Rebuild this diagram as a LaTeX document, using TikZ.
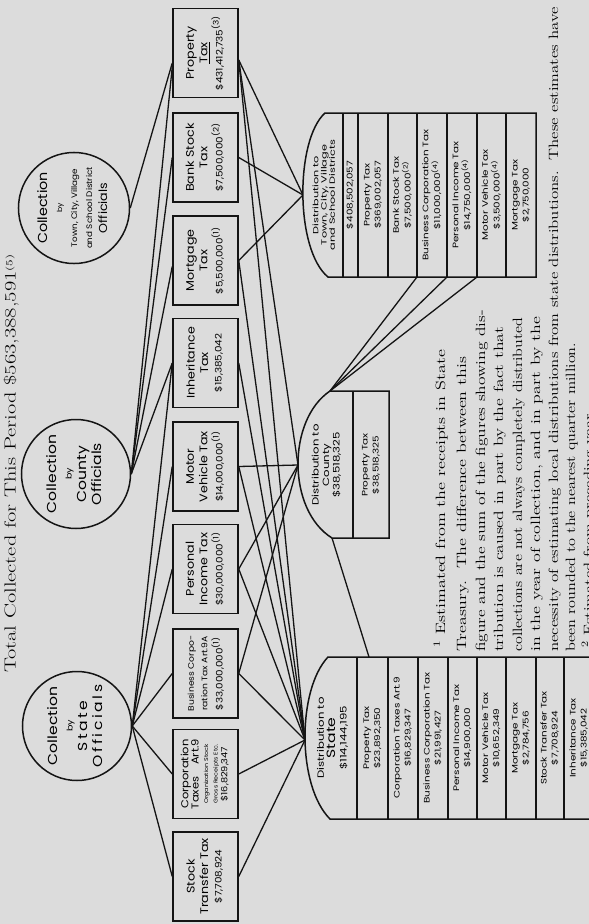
\documentclass[tikz,border=0pt]{standalone}
\usepackage{fontspec}
\usepackage{graphicx}
\newfontfamily\lett{Poppins}
\usetikzlibrary{calc}
\definecolor{paper}{HTML}{DCDCDC}
\definecolor{ink}{HTML}{141414}

% rotated lettering, stretched along the reading direction
\newcommand{\vt}[2][1.15]{\rotatebox{90}{\scalebox{#1}[1]{\begin{tabular}{@{}c@{}}#2\end{tabular}}}}
\newcommand{\amt}[1]{{\fontsize{9}{11}\selectfont\$#1}}
\newcommand{\fitline}[2]{\resizebox{#1}{\height}{#2}}

\begin{document}
\begin{tikzpicture}[x=1pt,y=-1pt,
  link/.style={draw=ink,line width=1.3pt},
  outline/.style={draw=ink,line width=1.5pt},
  taxbox/.style={draw=ink,line width=1.5pt,minimum width=65pt,minimum height=89pt,inner sep=0pt,font=\lett\fontsize{11}{13.5}\selectfont},
  officials/.style={draw=ink,circle,line width=1.5pt,minimum size=109pt,inner sep=0pt,font=\lett\fontsize{13}{15}\selectfont},
  rowtext/.style={inner sep=0pt,font=\lett\fontsize{8}{11}\selectfont},
  headtext/.style={inner sep=0pt,font=\lett\fontsize{7.5}{8.2}\selectfont},
  footline/.style={inner sep=0pt,rotate=90,anchor=base west,font=\fontsize{13.5}{16}\selectfont}]
\useasboundingbox (0,0) rectangle (589,924);
\fill[paper] (0,0) rectangle (589,924);
\clip (0,0) rectangle (589,924);

% Title
\node[footline,font=\fontsize{16}{18}\selectfont] (title) at (15.5,673)
  {\fitline{418pt}{Total Collected for This Period \$563,388,591{\fontsize{9}{9}\selectfont\raisebox{3pt}{(5)}}}};

% Collecting officials
\node[officials] (town) at (74,208) {\vt[1.1]{Collection\\{\fontsize{7}{7}\selectfont by}\\{\fontsize{8}{9}\selectfont Town, City, Village}\\{\fontsize{8}{9}\selectfont and School District}\\{\fontsize{11.5}{12}\selectfont Officials}}};
\node[officials] (county) at (76,474) {\vt[1.2]{Collection\\{\fontsize{8}{9}\selectfont by}\\County\\Officials}};
\node[officials] (state) at (77,726) {\vt[1.2]{Collection\\{\fontsize{8}{9}\selectfont by}\\S\,t\,a\,t\,e\\O\,f\,f\,i\,c\,i\,a\,l\,s}};

% Taxes
\node[taxbox] (prop) at (205.5,53) {\vt{Property\\\underline{Tax}\\\amt{431,412,735}\textsuperscript{(3)}}};
\node[taxbox] (bank) at (205.5,157.5) {\vt{Bank Stock\\Tax\\\amt{7,500,000}\textsuperscript{(2)}}};
\node[taxbox] (mort) at (205.5,260.5) {\vt{Mortgage\\Tax\\\amt{5,500,000}\textsuperscript{(1)}}};
\node[taxbox] (inh) at (205.5,363) {\vt{Inheritance\\Tax\\\amt{15,385,042}}};
\node[taxbox] (motor) at (205.5,466.5) {\vt{Motor\\Vehicle Tax\\\amt{14,000,000}\textsuperscript{(1)}}};
\node[taxbox] (pers) at (205.5,569) {\vt{Personal\\Income Tax\\\amt{30,000,000}\textsuperscript{(1)}}};
\node[taxbox] (bus) at (205.5,673.5) {\vt{{\fontsize{8}{10}\selectfont Business Corpo-}\\{\fontsize{8}{10}\selectfont ration Tax Art.9A}\\\amt{33,000,000}\textsuperscript{(1)}}};
\node[taxbox,font=\lett\fontsize{10}{9.5}\selectfont] (corp) at (205.5,774) {\vt{Corporation\\Taxes\quad Art.9\\{\fontsize{5.5}{6}\selectfont Organization Stock}\\{\fontsize{5.5}{6}\selectfont Gross Receipts Etc.}\\{\fontsize{8.5}{9.5}\selectfont\$16,829,347}}};
\node[taxbox] (stock) at (205.5,876.5) {\vt{Stock\\Transfer Tax\\\amt{7,708,924}}};

% Points where the distributions meet the lines
\coordinate (townpt) at (303,195);
\coordinate (countypt) at (298,465);
\coordinate (statept) at (305,740);
\coordinate (countytop) at (330,391);
\coordinate (countybot) at (332,538);
\coordinate (statetop) at (369,657);
\coordinate (townfoot1) at (417,277);
\coordinate (townfoot2) at (447,277);
\coordinate (townfoot3) at (477,277);

% Collection lines
\draw[link] (town.east) -- ($(prop.west)+(0,10)$);
\draw[link] (county.east) -- ($(prop.west)+(0,14)$);
\draw[link] (county.east) -- (bank.west);
\draw[link] (county.east) -- ($(mort.west)+(0,6)$);
\draw[link] (county.east) -- (inh.west);
\foreach \b in {inh,motor,pers,bus,corp,stock}
  \draw[link] (state.east) -- (\b.west);

% Distribution lines
\draw[link] ($(prop.east)+(0,7)$) -- (townpt);
\draw[link] ($(prop.east)+(0,7)$) -- (countypt);
\draw[link] ($(prop.east)+(0,7)$) -- (statept);
\draw[link] (bank.east) -- (townpt);
\draw[link] (mort.east) -- (townpt);
\draw[link] (mort.east) -- (statept);
\foreach \b in {inh,motor,pers,bus,corp,stock}
  \draw[link] (\b.east) -- (statept);
\foreach \b in {motor,pers,bus}
  \draw[link] (\b.east) -- (countypt);
\foreach \i in {1,2,3}
  \draw[link] (townfoot\i) -- (countytop);
\draw[link] (countybot) -- (statetop);

% Distribution to Town, City, Village and School Districts
\draw[outline,fill=paper] (328,277) .. controls (295,250) and (295,140) .. (325,113) -- (536,113) -- (536,277) -- cycle;
\foreach \x in {343,358,388,417,447,477,506}
  \draw[outline] (\x,113) -- (\x,277);
\node[headtext] (townhead) at (325,195) {\vt[1.5]{Distribution to\\Town, City, Village\\and School Districts}};
\node[rowtext] (townsum) at (350.5,195) {\vt[1.3]{\$408,502,057}};
\node[rowtext] (townprop) at (373,195) {\vt[1.3]{Property Tax\\\$369,002,057}};
\node[rowtext] (townbank) at (402.5,195) {\vt[1.3]{Bank Stock Tax\\\$7,500,000\textsuperscript{(2)}}};
\node[rowtext] (townbus) at (432,195) {\vt[1.3]{Business Corporation Tax\\\$11,000,000\textsuperscript{(4)}}};
\node[rowtext] (townpers) at (462,195) {\vt[1.3]{Personal Income Tax\\\$14,750,000\textsuperscript{(4)}}};
\node[rowtext] (townmotor) at (491.5,195) {\vt[1.3]{Motor Vehicle Tax\\\$3,500,000\textsuperscript{(4)}}};
\node[rowtext] (townmort) at (521,195) {\vt[1.3]{Mortgage Tax\\\$2,750,000}};

% Distribution to County
\draw[outline,fill=paper] (332,538) .. controls (287,510) and (287,420) .. (330,391) -- (389,391) -- (389,538) -- cycle;
\draw[outline] (353,391) -- (353,538);
\node[headtext,font=\lett\fontsize{9}{10.5}\selectfont] (countyhead) at (327,465) {\vt[1.3]{Distribution to\\County\\\$38,518,325}};
\node[rowtext] (countyprop) at (371,465) {\vt[1.3]{Property Tax\\\$38,518,325}};

% Distribution to State
\draw[outline,fill=paper] (330,819) .. controls (297,786) and (297,690) .. (328,657) -- (600,657) -- (600,819) -- cycle;
\foreach \x in {357,388,418,448,477,506,536,564,594}
  \draw[outline] (\x,657) -- (\x,819);
\node[headtext,font=\lett\fontsize{9}{11}\selectfont] (statehead) at (333,738) {\vt[1.3]{Distribution to\\{\fontsize{12}{13}\selectfont State}\\\$114,144,195}};
\node[rowtext] (stateprop) at (372.5,738) {\vt[1.3]{Property Tax\\\$23,892,350}};
\node[rowtext] (statecorp) at (403,738) {\vt[1.3]{Corporation Taxes Art.9\\\$16,829,347}};
\node[rowtext] (statebus) at (433,738) {\vt[1.3]{Business Corporation Tax\\\$21,991,427}};
\node[rowtext] (statepers) at (462.5,738) {\vt[1.3]{Personal Income Tax\\\$14,900,000}};
\node[rowtext] (statemotor) at (491.5,738) {\vt[1.3]{Motor Vehicle Tax\\\$10,652,349}};
\node[rowtext] (statemort) at (521,738) {\vt[1.3]{Mortgage Tax\\\$2,784,756}};
\node[rowtext] (statestock) at (550,738) {\vt[1.3]{Stock Transfer Tax\\\$7,708,924}};
\node[rowtext] (stateinh) at (579,738) {\vt[1.3]{Inheritance Tax\\\$15,385,042}};

% Footnotes
\node[footline] (note1) at (445,648) {\fitline{298pt}{\textsuperscript{1} Estimated from the receipts in State}};
\node[footline] (note2) at (466,652) {\fitline{295pt}{Treasury.\ \ The difference between this}};
\node[footline] (note3) at (485,652) {\fitline{342pt}{figure and the sum of the figures showing dis-}};
\node[footline] (note4) at (503,652) {\fitline{325pt}{tribution is caused in part by the fact that}};
\node[footline] (note5) at (522,652) {\fitline{334pt}{collections are not always completely distributed}};
\node[footline] (note6) at (540,652) {\fitline{335pt}{in the year of collection, and in part by the}};
\node[footline] (note7) at (558,652) {\fitline{645pt}{necessity of estimating local distributions from state distributions.\ \ These estimates have}};
\node[footline] (note8) at (575,652) {\fitline{309pt}{been rounded to the nearest quarter million.}};
\node[footline] (note9) at (593,648) {\fitline{238pt}{\textsuperscript{2} Estimated from preceding year.}};
\end{tikzpicture}
\end{document}
